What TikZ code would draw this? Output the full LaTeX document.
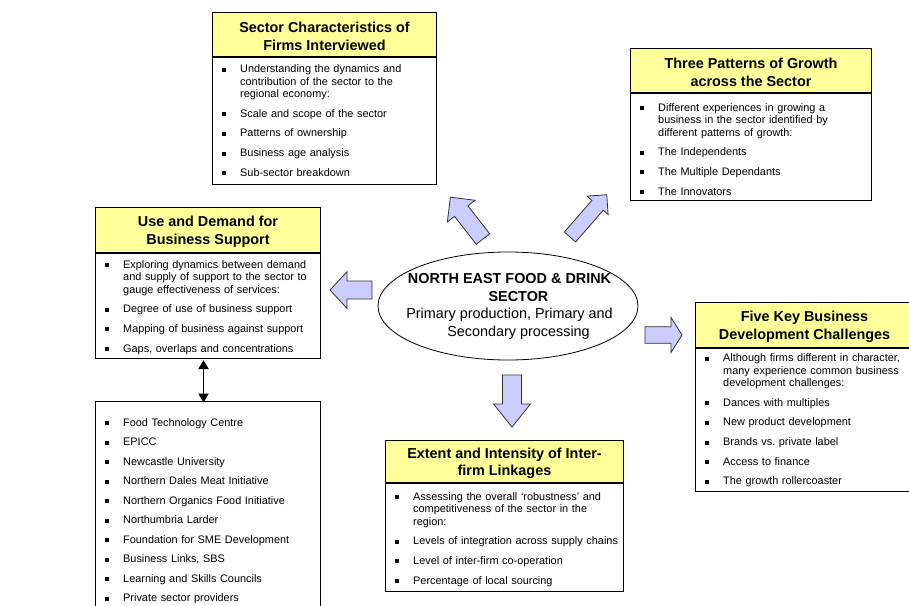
\documentclass[tikz,border=0pt]{standalone}
\usepackage{fontspec}
\setmainfont{Liberation Sans}
\usetikzlibrary{shapes.geometric,arrows.meta}
\definecolor{hdrY}{HTML}{FFFF99}
\definecolor{arrF}{HTML}{CCCCFF}
\frenchspacing
\newlength\bulw
\setlength\bulw{18pt}
\newcommand\bul{\makebox[\bulw][l]{\raisebox{1pt}{\rule{4pt}{4pt}}}}
\newcommand\itm[1]{\noindent\hangindent=\bulw\hangafter=1\bul#1\par}
\newcommand\nx{\vskip7pt}
\newcommand\tstrut{\rule{0pt}{14.4pt}}
\newcommand\blk[6]{%
  \draw[blkarrow, shift={#1}, rotate=#2] (0,-#6) -- ({#3-#4},-#6) -- ({#3-#4},-#5) -- (#3,0) -- ({#3-#4},#5) -- ({#3-#4},#6) -- (0,#6) -- cycle;}
\tikzset{
  hdr/.style={draw=black, line width=1pt, fill=hdrY, inner sep=0pt, anchor=north west, align=center,
    font=\bfseries\fontsize{14.4}{17.5}\selectfont},
  bodyb/.style={draw=black, line width=1pt, fill=white, inner sep=0pt, anchor=north west},
  lst/.style={font=\fontsize{10.9}{12.6}\selectfont, text width=#1, inner sep=0pt, anchor=base west},
  blkarrow/.style={draw=black!80, line width=0.8pt, fill=arrF, line join=miter},
}
\begin{document}
\begin{tikzpicture}[x=1pt,y=-1pt]
\useasboundingbox (0,0) rectangle (909,605);
\clip (0,0) rectangle (909,605);
\fill[white] (0,0) rectangle (909,605);

% Sector Characteristics
\node[hdr, minimum width=224pt, minimum height=44pt] (sch) at (212,12) {\tstrut Sector Characteristics of\\Firms Interviewed};
\node[bodyb, minimum width=224pt, minimum height=127pt] (scb) at (sch.south west) {};
\node[lst=200pt] (scl) at (222,72.5) {\itm{Understanding the dynamics and\newline contribution of the sector to the\newline regional economy:}\nx
\itm{Scale and scope of the sector}\nx
\itm{Patterns of ownership}\nx
\itm{Business age analysis}\nx
\itm{Sub-sector breakdown}};

% Three Patterns
\node[hdr, minimum width=241pt, minimum height=44pt] (tph) at (630,48) {\tstrut Three Patterns of Growth\\across the Sector};
\node[bodyb, minimum width=241pt, minimum height=107pt] (tpb) at (tph.south west) {};
\node[lst=220pt] (tpl) at (640,111) {\itm{Different experiences in growing a\newline business in the sector identified by\newline different patterns of growth:}\nx
\itm{The Independents}\nx
\itm{The Multiple Dependants}\nx
\itm{The Innovators}};

% Use and Demand
\node[hdr, minimum width=225pt, minimum height=45pt] (udh) at (95,207) {\tstrut Use and Demand for\\Business Support};
\node[bodyb, minimum width=225pt, minimum height=105pt] (udb) at (udh.south west) {};
\node[lst=205pt] (udl) at (105,268) {\itm{Exploring dynamics between demand\newline and supply of support to the sector to\newline gauge effectiveness of services:}\nx
\itm{Degree of use of business support}\nx
\itm{Mapping of business against support}\nx
\itm{Gaps, overlaps and concentrations}};

% Five Key
\node[hdr, minimum width=218pt, minimum height=45pt] (fkh) at (695,302) {\tstrut Five Key Business\\Development Challenges};
\node[bodyb, minimum width=218pt, minimum height=143pt] (fkb) at (fkh.south west) {};
\node[lst=200pt] (fkl) at (705,361.5) {\itm{Although firms different in character,\newline many experience common business\newline development challenges:}\nx
\itm{Dances with multiples}\nx
\itm{New product development}\nx
\itm{Brands vs. private label}\nx
\itm{Access to finance}\nx
\itm{The growth rollercoaster}};

% Extent and Intensity
\node[hdr, minimum width=238pt, minimum height=42pt] (eih) at (385,440) {\tstrut Extent and Intensity of Inter-\\firm Linkages};
\node[bodyb, minimum width=238pt, minimum height=108pt] (eib) at (eih.south west) {};
\node[lst=225pt] (eil) at (395,500) {\itm{Assessing the overall ‘robustness’ and\newline competitiveness of the sector in the\newline region:}\nx
\itm{Levels of integration across supply chains}\nx
\itm{Level of inter-firm co-operation}\nx
\itm{Percentage of local sourcing}};

% Support providers list
\node[bodyb, minimum width=225pt, minimum height=230pt] (lsb) at (95,401) {};
\node[lst=200pt] (lsl) at (105,426) {\itm{Food Technology Centre}\vskip6.9pt
\itm{EPICC}\vskip6.9pt
\itm{Newcastle University}\vskip6.9pt
\itm{Northern Dales Meat Initiative}\vskip6.9pt
\itm{Northern Organics Food Initiative}\vskip6.9pt
\itm{Northumbria Larder}\vskip6.9pt
\itm{Foundation for SME Development}\vskip6.9pt
\itm{Business Links, SBS}\vskip6.9pt
\itm{Learning and Skills Councils}\vskip6.9pt
\itm{Private sector providers}};

% double arrow
\draw[line width=1.8pt, {Triangle[width=10pt,length=9pt]}-{Triangle[width=10pt,length=9pt]}, shorten <=1pt, shorten >=-1.5pt]
  ([xshift=-4.5pt]udb.south) -- ([xshift=-4.5pt]lsb.north);

% central ellipse
\node[draw=black, ellipse, line width=0.8pt, fill=white, minimum width=260pt, minimum height=108pt, inner sep=0pt] (core) at (508,306) {};
\node[font=\fontsize{14.4}{17.6}\selectfont, align=center, inner sep=0pt] (coret) at (509.5,306.5) {\textbf{NORTH EAST FOOD \& DRINK}\\\hspace*{18pt}\textbf{SECTOR}\\Primary production, Primary and\\\hspace*{18pt}Secondary processing};

% block arrows
\blk{(483,239)}{128}{53}{17.6}{17.6}{8.5}
\blk{(570,237)}{49}{56}{14}{14}{7.5}
\blk{(372,290)}{180}{42}{17}{18.3}{9}
\blk{(645,335)}{0}{37}{11}{17.5}{8.3}
\blk{(512,375)}{-90}{52}{23}{18.5}{9.5}
\end{tikzpicture}
\end{document}
